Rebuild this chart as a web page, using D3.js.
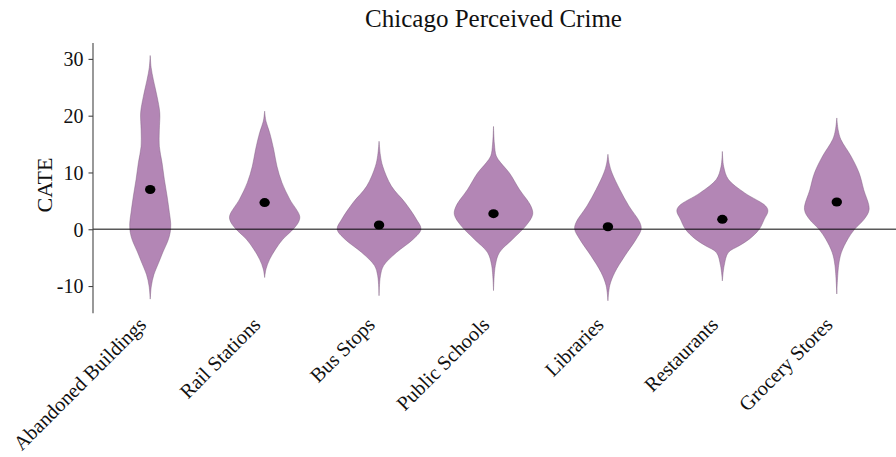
<!DOCTYPE html>
<html>
<head>
<meta charset="utf-8">
<script src="https://cdn.jsdelivr.net/npm/d3@7"></script>
<style>
  body { margin: 0; background: #fff; }
  svg text { font-family: "Liberation Serif", "Times New Roman", serif; fill: #111; }
</style>
</head>
<body>
<svg id="chart"></svg>
<script>
// Categories along the x axis
const categories = ['Abandoned Buildings', 'Rail Stations', 'Bus Stops', 'Public Schools',
    'Libraries', 'Restaurants', 'Grocery Stores'];

// Median CATE marked by the dot in each violin
const medians = [7.0, 4.7, 0.75, 2.75, 0.45, 1.75, 4.8];

// Violin outlines: [CATE value, relative density]
const abandonedShape = [[30.6, 0], [28.5, 0.02], [26.3, 0.07], [23.4, 0.15], [20.5, 0.21], [17.5, 0.2],
    [14.6, 0.2], [11.7, 0.26], [8.8, 0.31], [5.85, 0.37], [3.0, 0.42], [1.0, 0.45], [-0.5, 0.44],
    [-2, 0.39], [-4, 0.28], [-6, 0.18], [-8, 0.08], [-10, 0.025], [-12.3, 0]];
const railShape = [[20.8, 0], [19, 0.03], [17, 0.11], [14, 0.2], [11.1, 0.27], [8.2, 0.38], [5.3, 0.55],
    [2.3, 0.77], [1.2, 0.74], [-0.3, 0.59], [-1.75, 0.4], [-3.5, 0.24], [-5.3, 0.11], [-7, 0.03], [-8.5, 0]];
const busShape = [[15.5, 0], [13, 0.03], [11.1, 0.08], [7.6, 0.27], [4.7, 0.57], [1.75, 0.82], [0, 0.92],
    [-1.75, 0.75], [-4.1, 0.38], [-6.4, 0.1], [-8.2, 0.03], [-11.7, 0]];
const schoolShape = [[18.1, 0], [15, 0.02], [12.9, 0.06], [11.7, 0.16], [9.9, 0.35], [7, 0.57], [4.1, 0.82],
    [2.6, 0.86], [0.6, 0.71], [-1.75, 0.42], [-4.1, 0.13], [-6.4, 0.04], [-10.8, 0]];
const libraryShape = [[13.2, 0], [11.5, 0.03], [9.9, 0.09], [7, 0.26], [4.1, 0.46], [1.2, 0.7], [0, 0.73],
    [-1.75, 0.62], [-4.7, 0.37], [-7.6, 0.15], [-9.9, 0.04], [-12.6, 0]];
const restaurantShape = [[13.7, 0], [11, 0.03], [8.8, 0.13], [6.4, 0.49], [4.1, 0.95], [3.2, 1.0],
    [1.75, 0.92], [0, 0.81], [-1.75, 0.59], [-2.9, 0.37], [-4.1, 0.13], [-6.4, 0.04], [-9.1, 0]];
const groceryShape = [[19.6, 0], [17.5, 0.03], [15.8, 0.09], [12.9, 0.31], [9.9, 0.49], [7, 0.59],
    [3.5, 0.71], [1.75, 0.6], [0, 0.39], [-1.75, 0.24], [-4.1, 0.1], [-6.4, 0.04], [-11.4, 0]];
const shapes = [abandonedShape, railShape, busShape, schoolShape, libraryShape, restaurantShape, groceryShape];

// Tick values on the y axis
const yTicks = [-10, 0, 10, 20, 30];

const width = 896, height = 457;
const margin = { top: 43, right: 2, bottom: 143, left: 93 };

const svg = d3.select('#chart')
    .attr('width', width)
    .attr('height', height);

const x = d3.scaleBand()
    .domain(categories)
    .range([margin.left, width - margin.right])
    .padding(0);

const y = d3.scaleLinear()
    .domain([-14.8, 32.8])
    .range([height - margin.bottom - 0.7, margin.top]);

// half-width of a violin at a given relative density
const w = d3.scaleLinear()
    .domain([0, 1])
    .range([0, x.bandwidth() * 0.398]);

// Violins
const area = d3.area()
    .y(d => y(d[0]))
    .curve(d3.curveCatmullRom.alpha(0.5));

svg.append('g')
    .selectAll('path')
    .data(shapes)
    .join('path')
    .attr('d', (d, i) => {
        const cx = x(categories[i]) + x.bandwidth() / 2;
        return area.x0(p => cx - w(p[1])).x1(p => cx + w(p[1]))(d);
    })
    .style('fill', '#b386b5')
    .style('stroke', '#7a5a7c')
    .style('stroke-opacity', 0.55)
    .style('stroke-width', 0.8);

// Zero reference line
svg.append('line')
    .attr('x1', margin.left)
    .attr('x2', width)
    .attr('y1', y(0))
    .attr('y2', y(0))
    .style('stroke', '#000')
    .style('stroke-opacity', 0.65)
    .style('stroke-width', 1.5);

// Median dots
svg.append('g')
    .selectAll('ellipse')
    .data(medians)
    .join('ellipse')
    .attr('cx', (d, i) => x(categories[i]) + x.bandwidth() / 2)
    .attr('cy', d => y(d))
    .attr('rx', 5.2)
    .attr('ry', 4.5)
    .style('fill', '#000');

// Y axis
const yAxis = svg.append('g')
    .attr('transform', `translate(${margin.left},0)`)
    .call(d3.axisLeft(y).tickValues(yTicks).tickSize(4.5).tickPadding(5).tickFormat(d => String(d)));
yAxis.select('.domain').attr('d', `M0,${y.range()[0]}V${y.range()[1]}`)
    .style('stroke', '#444').style('stroke-width', 1.1);
yAxis.selectAll('.tick line').style('stroke', '#444').style('stroke-width', 1.1);
yAxis.selectAll('.tick text')
    .style('font-size', '20px')
    .attr('dy', '0.34em');

// X tick labels (rotated)
svg.append('g')
    .selectAll('text')
    .data(categories)
    .join('text')
    .attr('transform', d => `translate(${x(d) + x.bandwidth() / 2 - 3},326) rotate(-45)`)
    .attr('text-anchor', 'end')
    .style('font-size', '20.3px')
    .text(d => d);

// Axis label
svg.append('text')
    .attr('transform', `translate(52,185) rotate(-90)`)
    .attr('text-anchor', 'middle')
    .style('font-size', '22px')
    .text('CATE');

// Title
svg.append('text')
    .attr('x', (margin.left + width - margin.right) / 2)
    .attr('y', 27)
    .attr('text-anchor', 'middle')
    .style('font-size', '25px')
    .text('Chicago Perceived Crime');
</script>
</body>
</html>
